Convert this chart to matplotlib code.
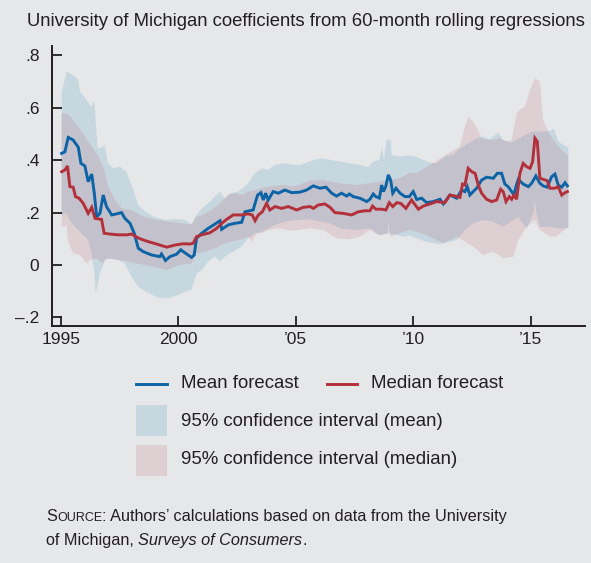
import matplotlib
matplotlib.use('Agg')
import matplotlib.pyplot as plt
from matplotlib.lines import Line2D
from matplotlib.patches import Rectangle

# Mean forecast coefficient
mean_t = [1995.03, 1995.17, 1995.31, 1995.52, 1995.74, 1995.85, 1996.02, 1996.16, 1996.31, 1996.42,
          1996.52, 1996.66, 1996.80, 1996.94, 1997.16, 1997.37, 1997.58, 1997.72, 1997.94, 1998.12,
          1998.29, 1998.50, 1998.86, 1999.21, 1999.28, 1999.45, 1999.64, 1999.92, 2000.10, 2000.30,
          2000.56, 2000.67, 2000.77, 2000.99, 2001.27, 2001.55, 2001.77, 2001.84, 2002.12, 2002.40,
          2002.69, 2002.83, 2003.18, 2003.26, 2003.37, 2003.51, 2003.61, 2003.71, 2003.82, 2004.03,
          2004.25, 2004.53, 2004.82, 2005.17, 2005.45, 2005.74, 2006.02, 2006.28, 2006.52, 2006.73,
          2006.94, 2007.16, 2007.27, 2007.44, 2007.72, 2008.01, 2008.15, 2008.29, 2008.40, 2008.55,
          2008.65, 2008.72, 2008.82, 2008.93, 2009.03, 2009.12, 2009.26, 2009.43, 2009.64, 2009.82,
          2009.99, 2010.14, 2010.35, 2010.56, 2010.84, 2011.13, 2011.27, 2011.55, 2011.84, 2012.05,
          2012.19, 2012.29, 2012.40, 2012.54, 2012.69, 2012.90, 2013.11, 2013.40, 2013.57, 2013.75,
          2013.89, 2014.03, 2014.18, 2014.28, 2014.36, 2014.46, 2014.67, 2014.89, 2015.03, 2015.21,
          2015.38, 2015.52, 2015.69, 2015.88, 2016.02, 2016.16, 2016.31, 2016.45, 2016.55]
mean_v = [0.426, 0.432, 0.487, 0.477, 0.449, 0.388, 0.378, 0.318, 0.347, 0.274,
          0.184, 0.197, 0.267, 0.223, 0.191, 0.195, 0.200, 0.178, 0.159, 0.121,
          0.064, 0.051, 0.038, 0.032, 0.042, 0.017, 0.032, 0.041, 0.058, 0.045,
          0.029, 0.038, 0.102, 0.121, 0.140, 0.156, 0.169, 0.136, 0.153, 0.159,
          0.163, 0.203, 0.210, 0.235, 0.267, 0.276, 0.248, 0.274, 0.248, 0.280,
          0.274, 0.286, 0.276, 0.278, 0.286, 0.302, 0.293, 0.297, 0.274, 0.263,
          0.274, 0.263, 0.271, 0.261, 0.255, 0.242, 0.251, 0.271, 0.261, 0.255,
          0.305, 0.280, 0.299, 0.344, 0.324, 0.274, 0.293, 0.274, 0.261, 0.261,
          0.280, 0.250, 0.255, 0.238, 0.242, 0.251, 0.233, 0.267, 0.255, 0.286,
          0.280, 0.299, 0.267, 0.280, 0.293, 0.324, 0.335, 0.331, 0.350, 0.350,
          0.309, 0.299, 0.280, 0.267, 0.299, 0.327, 0.309, 0.299, 0.312, 0.340,
          0.312, 0.302, 0.297, 0.337, 0.347, 0.305, 0.297, 0.314, 0.302]

# Median forecast coefficient
med_t = [1995.03, 1995.17, 1995.28, 1995.38, 1995.52, 1995.62, 1995.77, 1995.95, 1996.16, 1996.31,
         1996.45, 1996.73, 1996.84, 1997.09, 1997.44, 1997.80, 1998.01, 1998.22, 1998.43, 1998.72,
         1999.07, 1999.50, 1999.85, 2000.20, 2000.49, 2000.63, 2000.77, 2000.99, 2001.34, 2001.63,
         2001.84, 2002.05, 2002.33, 2002.69, 2002.97, 2003.14, 2003.26, 2003.40, 2003.57, 2003.75,
         2003.89, 2004.11, 2004.39, 2004.67, 2005.03, 2005.31, 2005.60, 2005.74, 2005.95, 2006.23,
         2006.45, 2006.66, 2007.01, 2007.37, 2007.65, 2007.94, 2008.15, 2008.26, 2008.40, 2008.65,
         2008.83, 2008.97, 2009.12, 2009.29, 2009.46, 2009.68, 2009.92, 2010.00, 2010.21, 2010.42,
         2010.70, 2010.99, 2011.34, 2011.55, 2011.77, 2011.98, 2012.09, 2012.19, 2012.33, 2012.48,
         2012.62, 2012.76, 2012.90, 2013.11, 2013.33, 2013.54, 2013.71, 2013.82, 2013.94, 2014.08,
         2014.18, 2014.28, 2014.39, 2014.53, 2014.67, 2014.82, 2014.96, 2015.07, 2015.17, 2015.27,
         2015.38, 2015.52, 2015.69, 2015.81, 2016.02, 2016.16, 2016.31, 2016.45, 2016.55]
med_v = [0.356, 0.363, 0.378, 0.299, 0.297, 0.261, 0.255, 0.235, 0.197, 0.220,
         0.178, 0.174, 0.121, 0.118, 0.115, 0.115, 0.118, 0.106, 0.098, 0.089,
         0.080, 0.068, 0.076, 0.081, 0.080, 0.083, 0.108, 0.115, 0.123, 0.140,
         0.159, 0.174, 0.191, 0.191, 0.195, 0.191, 0.169, 0.191, 0.203, 0.235,
         0.210, 0.223, 0.216, 0.223, 0.210, 0.220, 0.223, 0.216, 0.229, 0.233,
         0.220, 0.200, 0.197, 0.191, 0.203, 0.207, 0.207, 0.225, 0.213, 0.213,
         0.210, 0.238, 0.223, 0.238, 0.235, 0.216, 0.248, 0.238, 0.213, 0.225,
         0.233, 0.242, 0.238, 0.267, 0.263, 0.258, 0.309, 0.305, 0.369, 0.356,
         0.350, 0.305, 0.274, 0.251, 0.242, 0.248, 0.289, 0.280, 0.242, 0.261,
         0.251, 0.267, 0.251, 0.350, 0.388, 0.375, 0.369, 0.394, 0.484, 0.471,
         0.331, 0.327, 0.322, 0.293, 0.293, 0.299, 0.267, 0.276, 0.280]

# 95% confidence interval, mean
mean_hi_t = [1995.03, 1995.24, 1995.52, 1995.74, 1995.81, 1996.09, 1996.28, 1996.42, 1996.56, 1996.73,
             1996.87, 1996.99, 1997.23, 1997.51, 1997.79, 1998.08, 1998.29, 1998.57, 1999.00, 1999.43,
             1999.85, 2000.28, 2000.56, 2000.77, 2000.99, 2001.27, 2001.55, 2001.77, 2001.98, 2002.19,
             2002.55, 2002.90, 2003.26, 2003.54, 2003.82, 2004.11, 2004.53, 2004.96, 2005.17, 2005.60,
             2005.88, 2006.16, 2006.45, 2006.87, 2007.30, 2007.72, 2008.08, 2008.29, 2008.55, 2008.65,
             2008.75, 2008.86, 2009.03, 2009.07, 2009.43, 2009.85, 2010.14, 2010.42, 2010.70, 2010.99,
             2011.20, 2011.41, 2011.70, 2011.98, 2012.33, 2012.69, 2012.97, 2013.25, 2013.61, 2013.82,
             2014.11, 2014.39, 2014.74, 2015.10, 2015.52, 2015.81, 2015.98, 2016.16, 2016.38, 2016.59]
mean_hi_v = [0.655, 0.738, 0.725, 0.706, 0.662, 0.630, 0.604, 0.627, 0.445, 0.449,
             0.458, 0.388, 0.369, 0.375, 0.356, 0.286, 0.229, 0.205, 0.182, 0.172,
             0.175, 0.172, 0.155, 0.191, 0.216, 0.235, 0.261, 0.280, 0.254, 0.274,
             0.280, 0.305, 0.350, 0.369, 0.363, 0.382, 0.388, 0.382, 0.382, 0.395,
             0.404, 0.407, 0.401, 0.395, 0.388, 0.382, 0.373, 0.395, 0.401, 0.449,
             0.401, 0.480, 0.477, 0.420, 0.414, 0.418, 0.412, 0.401, 0.391, 0.388,
             0.404, 0.416, 0.420, 0.445, 0.464, 0.483, 0.490, 0.480, 0.505, 0.477,
             0.467, 0.477, 0.496, 0.509, 0.509, 0.512, 0.521, 0.472, 0.458, 0.449]
mean_lo_t = [1995.03, 1995.24, 1995.38, 1995.59, 1995.88, 1996.16, 1996.31, 1996.42, 1996.48, 1996.66,
             1996.87, 1997.09, 1997.44, 1997.72, 1998.01, 1998.29, 1998.72, 1999.14, 1999.57, 1999.99,
             2000.35, 2000.56, 2000.77, 2000.99, 2001.27, 2001.55, 2001.77, 2001.98, 2002.33, 2002.69,
             2002.97, 2003.26, 2003.54, 2003.82, 2004.11, 2004.53, 2004.96, 2005.60, 2006.45, 2006.87,
             2007.58, 2008.15, 2008.58, 2009.00, 2009.57, 2009.85, 2010.56, 2011.13, 2011.84, 2012.19,
             2012.54, 2012.97, 2013.40, 2013.82, 2014.25, 2014.46, 2014.82, 2015.10, 2015.17, 2015.25,
             2015.38, 2015.81, 2016.20, 2016.59]
mean_lo_v = [0.191, 0.197, 0.172, 0.146, 0.121, 0.095, 0.045, -0.032, -0.108, -0.032,
             0.019, 0.025, 0.019, 0.006, -0.045, -0.083, -0.108, -0.124, -0.127, -0.115,
             -0.100, -0.095, -0.032, -0.019, 0.013, 0.032, 0.013, 0.032, 0.051, 0.070,
             0.102, 0.121, 0.127, 0.140, 0.153, 0.165, 0.172, 0.174, 0.159, 0.140,
             0.133, 0.140, 0.114, 0.121, 0.108, 0.112, 0.088, 0.080, 0.095, 0.134,
             0.159, 0.172, 0.165, 0.146, 0.172, 0.184, 0.140, 0.200, 0.248, 0.190,
             0.146, 0.146, 0.140, 0.140]

# 95% confidence interval, median
med_hi_t = [1995.03, 1995.24, 1995.45, 1995.74, 1996.02, 1996.31, 1996.59, 1996.84, 1997.01, 1997.30,
            1997.58, 1998.01, 1998.43, 1999.00, 1999.57, 2000.13, 2000.56, 2000.77, 2000.99, 2001.27,
            2001.70, 2002.12, 2002.40, 2002.69, 2002.97, 2003.26, 2003.54, 2003.82, 2004.39, 2004.96,
            2005.60, 2006.16, 2006.87, 2007.58, 2008.15, 2008.58, 2009.00, 2009.43, 2009.85, 2010.14,
            2011.27, 2011.98, 2012.19, 2012.33, 2012.54, 2012.75, 2012.90, 2013.25, 2013.68, 2013.96,
            2014.18, 2014.39, 2014.53, 2014.74, 2014.96, 2015.17, 2015.38, 2015.52, 2015.74, 2015.95,
            2016.24, 2016.59]
med_hi_v = [0.579, 0.579, 0.560, 0.528, 0.490, 0.452, 0.414, 0.363, 0.299, 0.248,
            0.216, 0.210, 0.187, 0.174, 0.165, 0.159, 0.155, 0.184, 0.190, 0.203,
            0.229, 0.267, 0.274, 0.267, 0.280, 0.286, 0.293, 0.299, 0.305, 0.300,
            0.322, 0.324, 0.312, 0.305, 0.312, 0.318, 0.324, 0.331, 0.352, 0.350,
            0.414, 0.452, 0.528, 0.566, 0.547, 0.515, 0.483, 0.477, 0.483, 0.471,
            0.477, 0.579, 0.594, 0.604, 0.668, 0.712, 0.700, 0.553, 0.509, 0.477,
            0.445, 0.414]
med_lo_t = [1995.03, 1995.24, 1995.31, 1995.52, 1995.81, 1996.09, 1996.23, 1996.52, 1996.77, 1996.94,
            1997.51, 1998.22, 1998.93, 1999.50, 2000.06, 2000.56, 2000.77, 2001.13, 2001.55, 2001.98,
            2002.55, 2002.97, 2003.11, 2003.33, 2003.54, 2003.82, 2004.25, 2004.82, 2005.60, 2006.16,
            2006.73, 2007.30, 2007.72, 2008.15, 2008.51, 2008.90, 2008.93, 2009.00, 2009.57, 2009.85,
            2010.56, 2011.27, 2011.84, 2012.54, 2012.97, 2013.40, 2013.82, 2014.25, 2014.46, 2014.82,
            2015.17, 2015.38, 2015.81, 2016.10, 2016.59]
med_lo_v = [0.146, 0.150, 0.089, 0.045, 0.038, 0.006, 0.019, 0.025, 0.006, 0.025,
            0.019, 0.006, -0.006, -0.019, 0.000, 0.005, 0.045, 0.051, 0.064, 0.083,
            0.095, 0.108, 0.089, 0.121, 0.121, 0.134, 0.140, 0.131, 0.140, 0.133,
            0.102, 0.098, 0.108, 0.133, 0.114, 0.120, 0.172, 0.108, 0.127, 0.135,
            0.114, 0.083, 0.108, 0.070, 0.038, 0.051, 0.025, 0.032, 0.095, 0.146,
            0.172, 0.134, 0.108, 0.110, 0.146]

tick_years = [1995, 2000, 2005, 2010, 2015]
tick_year_labels = ['1995', '2000', '\u201905', '\u201910', '\u201915']
tick_vals = [-0.2, 0, 0.2, 0.4, 0.6, 0.8]
tick_val_labels = ['\u2013.2', '0', '.2', '.4', '.6', '.8']

W, H = 591, 563
BG = '#e6e7e9'
INK = '#231f20'
BLUE = '#0c63a5'
RED = '#b3303a'
BLUE_BAND = '#c6d7e0'
RED_BAND = '#ddcfd2'
BOTH_BAND = '#c3c1cb'

plt.rcParams['font.family'] = ['Liberation Sans', 'DejaVu Sans']

fig = plt.figure(figsize=(W / 100, H / 100), dpi=100, facecolor=BG)
ax = fig.add_axes([52 / W, 1 - 326 / H, (585 - 52) / W, (326 - 46) / H])
ax.set_facecolor(BG)

# bands: blue, pink, and the pink polygon again clipped to the blue one for the overlap
blue_poly = ax.fill(mean_hi_t + mean_lo_t[::-1], mean_hi_v + mean_lo_v[::-1],
                    color=BLUE_BAND, lw=0)[0]
ax.fill(med_hi_t + med_lo_t[::-1], med_hi_v + med_lo_v[::-1], color=RED_BAND, lw=0)
both = ax.fill(med_hi_t + med_lo_t[::-1], med_hi_v + med_lo_v[::-1], color=BOTH_BAND, lw=0)[0]
both.set_clip_path(blue_poly)

ax.plot(mean_t, mean_v, color=BLUE, lw=2.1, solid_joinstyle='miter')
ax.plot(med_t, med_v, color=RED, lw=2.1, solid_joinstyle='miter')

ax.set_xlim(1994.62, 2017.3)
ax.set_ylim(-0.233, 0.836)
for s in ['top', 'right']:
    ax.spines[s].set_visible(False)
for s in ['left', 'bottom']:
    ax.spines[s].set_color(INK)
    ax.spines[s].set_linewidth(1.4)
ax.set_xticks(tick_years)
ax.set_xticklabels(tick_year_labels)
ax.set_yticks(tick_vals)
ax.set_yticklabels(tick_val_labels)
ax.tick_params(direction='in', length=7, width=1.3, color=INK, labelcolor=INK,
               labelsize=12.5)
ax.tick_params(axis='y', pad=9)
ax.tick_params(axis='x', pad=4)


def fx(x):
    return x / W


def fy(y):
    return 1 - y / H


fig.text(fx(27), fy(22), 'University of Michigan coefficients from 60-month rolling regressions',
         fontsize=13.35, color=INK, va='center', ha='left')

# legend
fig.add_artist(Line2D([fx(136), fx(167)], [fy(384), fy(384)], color=BLUE, lw=2.1))
fig.text(fx(181), fy(384), 'Mean forecast', fontsize=13.4, color=INK, va='center')
fig.add_artist(Line2D([fx(327), fx(357)], [fy(384), fy(384)], color=RED, lw=2.1))
fig.text(fx(371), fy(384), 'Median forecast', fontsize=13.4, color=INK, va='center')
fig.add_artist(Rectangle((fx(136), fy(436)), 31 / W, 31 / H, transform=fig.transFigure,
                         color=BLUE_BAND, lw=0))
fig.text(fx(181), fy(421), '95% confidence interval (mean)', fontsize=13.4, color=INK, va='center')
fig.add_artist(Rectangle((fx(136), fy(476)), 31 / W, 31 / H, transform=fig.transFigure,
                         color=RED_BAND, lw=0))
fig.text(fx(181), fy(460), '95% confidence interval (median)', fontsize=13.4, color=INK, va='center')

# source note, written piece by piece for the small caps and italics
renderer = fig.canvas.get_renderer()


def text_run(x, y, pieces):
    for s, kw in pieces:
        t = fig.text(fx(x), fy(y), s, color=INK, va='baseline', ha='left', **kw)
        x += t.get_window_extent(renderer=renderer).width


text_run(46, 521, [('S', dict(fontsize=11.7)), ('OURCE', dict(fontsize=9.0)),
                   (': Authors\u2019 calculations based on data from the University', dict(fontsize=11.7))])
text_run(46, 545, [('of Michigan, ', dict(fontsize=11.7)),
                   ('Surveys of Consumers', dict(fontsize=11.7, style='italic')),
                   ('.', dict(fontsize=11.7))])

fig.savefig('out.png', dpi=100, facecolor=BG)
